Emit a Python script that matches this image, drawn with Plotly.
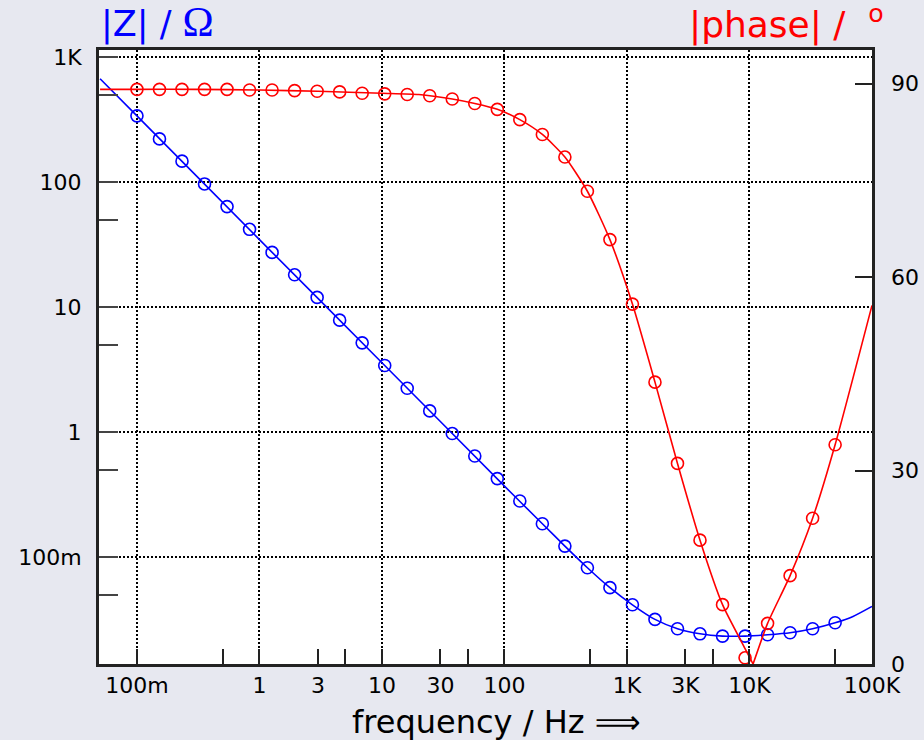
import numpy as np
import plotly.graph_objects as go

# Measured frequencies (Hz)
freq = [0.1, 0.1527, 0.2332, 0.3561, 0.5437, 0.8302, 1.268, 1.936, 2.956, 4.514,
        6.893, 10.53, 16.07, 24.54, 37.48, 57.23, 87.39, 133.4, 203.8, 311.2,
        475.2, 725.6, 1108, 1692, 2584, 3945, 6024, 9199, 14050, 21450,
        32750, 50000]

# Measured impedance magnitude (Ohm)
z_meas = [341, 223, 148, 97.2, 64.0, 42.1, 27.5, 18.2, 12.0, 7.89,
          5.19, 3.42, 2.25, 1.48, 0.975, 0.645, 0.425, 0.281, 0.185, 0.1225,
          0.0822, 0.0569, 0.0415, 0.0317, 0.0267, 0.0243, 0.0233, 0.0233, 0.0239, 0.0248,
          0.0267, 0.0298]

# Measured |phase| (degrees)
phase_meas = [89.1, 89.1, 89.1, 89.1, 89.1, 89.0, 89.0, 88.9, 88.8, 88.7,
              88.5, 88.4, 88.3, 88.1, 87.6, 86.9, 86.0, 84.4, 82.1, 78.6,
              73.3, 65.8, 55.8, 43.7, 31.1, 19.2, 9.2, 0.96, 6.3, 13.7,
              22.6, 34.0]

# Model curve for |Z|
z_fit_f = [0.05, 0.1, 1, 10, 100, 203.8, 311.2, 475.2, 725.6, 1108, 1692, 2584,
           3945, 6024, 9199, 14050, 21450, 32750, 50000, 70000, 100000]
z_fit = [675, 341, 34.8, 3.6, 0.370, 0.185, 0.1225, 0.0822, 0.0569, 0.0415, 0.0317, 0.0267,
         0.0243, 0.0233, 0.0233, 0.0239, 0.0248, 0.0267, 0.0298, 0.0335, 0.0403]

# Model curve for |phase|, falling branch (capacitive) and rising branch (inductive)
ph_fit_f_low = [0.05, 0.1, 0.3, 1, 3, 10, 20, 37.48, 57.23, 87.39, 133.4, 203.8, 311.2,
                475.2, 725.6, 1108, 1692, 2584, 3945, 6024, 9199, 10700]
ph_fit_low = [89.1, 89.1, 89.1, 89.0, 88.8, 88.5, 88.3, 87.6, 86.9, 86.0, 84.4, 82.1, 78.6,
              73.3, 65.8, 55.8, 43.7, 31.1, 19.2, 9.2, 2.4, 0.0]
ph_fit_f_high = [10700, 14050, 21450, 32750, 50000, 100000]
ph_fit_high = [0.0, 6.3, 13.7, 22.6, 34.0, 55.6]

# Axis ticks
x_tick_vals = [0.1, 0.5, 1, 3, 5, 10, 30, 50, 100, 500, 1000, 3000, 5000, 10000, 50000, 100000]
x_tick_text = ["100m", "", "1", "3", "", "10", "30", "", "100", "", "1K", "3K", "", "10K", "", "100K"]
x_grid_vals = [0.1, 1, 10, 100, 1000, 10000]

y_tick_vals = [1000, 500, 100, 50, 10, 5, 1, 0.5, 0.1, 0.05]
y_tick_text = ["1K", "", "100", "", "10", "", "1", "", "100m", ""]
y_grid_vals = [1000, 100, 10, 1, 0.1]

y2_tick_vals = [0, 30, 60, 90]
y2_tick_text = ["0", "30", "60", "90"]

BLUE = "#0000ff"
RED = "#ff0000"
FONT = "DejaVu Sans"
AXC = "#222222"

fig = go.Figure()

fig.add_trace(go.Scatter(x=z_fit_f, y=z_fit, mode="lines",
                         line=dict(color=BLUE, width=1.6, shape="spline", smoothing=0.6),
                         showlegend=False, hoverinfo="skip"))
fig.add_trace(go.Scatter(x=freq, y=z_meas, mode="markers",
                         marker=dict(symbol="circle-open", size=12, color=BLUE,
                                     line=dict(width=1.6, color=BLUE)),
                         showlegend=False))
fig.add_trace(go.Scatter(x=ph_fit_f_low, y=ph_fit_low, mode="lines", yaxis="y2",
                         line=dict(color=RED, width=1.6, shape="spline", smoothing=0.6),
                         showlegend=False, hoverinfo="skip"))
fig.add_trace(go.Scatter(x=ph_fit_f_high, y=ph_fit_high, mode="lines", yaxis="y2",
                         line=dict(color=RED, width=1.6, shape="spline", smoothing=0.6),
                         showlegend=False, hoverinfo="skip"))
fig.add_trace(go.Scatter(x=freq, y=phase_meas, mode="markers", yaxis="y2",
                         marker=dict(symbol="circle-open", size=12, color=RED,
                                     line=dict(width=1.6, color=RED)),
                         showlegend=False))

grid_style = dict(showgrid=True, gridcolor="black", gridwidth=2, griddash="2px,2px", ticks="")

fig.update_layout(
    width=924, height=740,
    margin=dict(l=99, r=52, t=50, b=76, autoexpand=False),
    paper_bgcolor="#e7e8f0",
    plot_bgcolor="white",
    font=dict(family=FONT, size=22, color="black"),
    xaxis=dict(
        type="log", range=[np.log10(0.049), 5.0], automargin=False,
        tickmode="array", tickvals=x_tick_vals, ticktext=x_tick_text,
        ticks="inside", ticklen=15, tickwidth=2, tickcolor=AXC,
        showline=True, linewidth=3, linecolor=AXC, mirror=True,
        showgrid=False, zeroline=False, ticklabelstandoff=0,
        minor=dict(tickvals=x_grid_vals, **grid_style),
    ),
    yaxis=dict(
        type="log", range=[-1.856, 3.06], automargin=False,
        tickmode="array", tickvals=y_tick_vals, ticktext=y_tick_text,
        ticks="inside", ticklen=19, tickwidth=2, tickcolor="#444444",
        showline=True, linewidth=3, linecolor=AXC, mirror=True,
        showgrid=False, zeroline=False, ticklabelstandoff=10,
        minor=dict(tickvals=y_grid_vals, **grid_style),
    ),
    yaxis2=dict(
        overlaying="y", side="right", range=[0, 95.2], automargin=False,
        tickmode="array", tickvals=y2_tick_vals, ticktext=y2_tick_text,
        ticks="inside", ticklen=17, tickwidth=2, tickcolor=AXC,
        showline=False, showgrid=False, zeroline=False, ticklabelstandoff=18,
    ),
    annotations=[
        dict(text='|Z| / <span style="font-family:Liberation Serif;font-size:42px">Ω</span>',
             xref="paper", yref="paper", x=0.0, y=1.0456, xanchor="left", yanchor="middle",
             showarrow=False, font=dict(family=FONT, size=35, color=BLUE)),
        dict(text="|phase| /  <sup>o</sup>",
             xref="paper", yref="paper", x=1.018, y=1.0456, xanchor="right", yanchor="middle",
             showarrow=False, font=dict(family=FONT, size=36, color=RED)),
        dict(text="frequency / Hz ⟹",
             xref="paper", yref="paper", x=0.5136, y=-0.0945, xanchor="center", yanchor="middle",
             showarrow=False, font=dict(family=FONT, size=32, color="black")),
    ],
)

fig.write_html("out.html")
